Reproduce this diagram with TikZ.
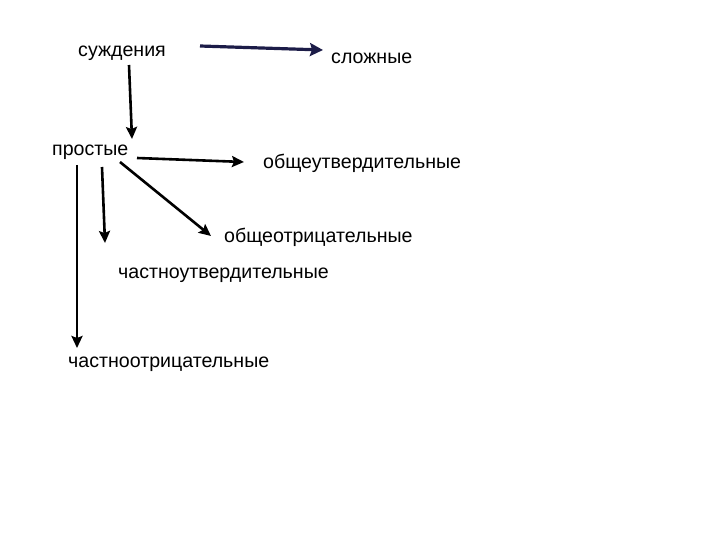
\documentclass[tikz,border=0pt]{standalone}
\usepackage{fontspec}
\setmainfont{Liberation Sans}
\usetikzlibrary{arrows.meta}
\definecolor{navy}{RGB}{28,28,72}
\tikzset{
  lbl/.style={anchor=base west, inner sep=0pt, font=\fontsize{19.6}{22}\selectfont},
  arr/.style={line width=2.6pt, -{Stealth[length=12pt,width=11pt,inset=2pt]}},
  arrnavy/.style={arr, line width=3.2pt, draw=navy, -{Stealth[length=13pt,width=13pt,inset=2pt]}}
}
\begin{document}
\begin{tikzpicture}[x=1pt,y=-1pt]
\useasboundingbox (0,0) rectangle (720,540);
\node[lbl] (sud) at (78,57) {суждения};
\node[lbl] (slo) at (331,64) {сложные};
\node[lbl] (pro) at (52,156) {простые};
\node[lbl] (obu) at (263,169) {общеутвердительные};
\node[lbl] (obo) at (224,243) {общеотрицательные};
\node[lbl] (chu) at (118,278) {частноутвердительные};
\node[lbl] (cho) at (68,367) {частноотрицательные};
\coordinate (a1s) at (200,46); \coordinate (a1e) at (323,50);
\coordinate (a2s) at (129,65); \coordinate (a2e) at (132,139);
\coordinate (a3s) at (137,158); \coordinate (a3e) at (244,162);
\coordinate (a4s) at (120,162); \coordinate (a4e) at (211,236);
\coordinate (a5s) at (102,167); \coordinate (a5e) at (105,243);
\coordinate (a6s) at (77,165); \coordinate (a6e) at (77,348);
\draw[arrnavy] (a1s) -- (a1e);
\draw[arr] (a2s) -- (a2e);
\draw[arr] (a3s) -- (a3e);
\draw[arr] (a4s) -- (a4e);
\draw[arr] (a5s) -- (a5e);
\draw[arr] (a6s) -- (a6e);
\end{tikzpicture}
\end{document}
